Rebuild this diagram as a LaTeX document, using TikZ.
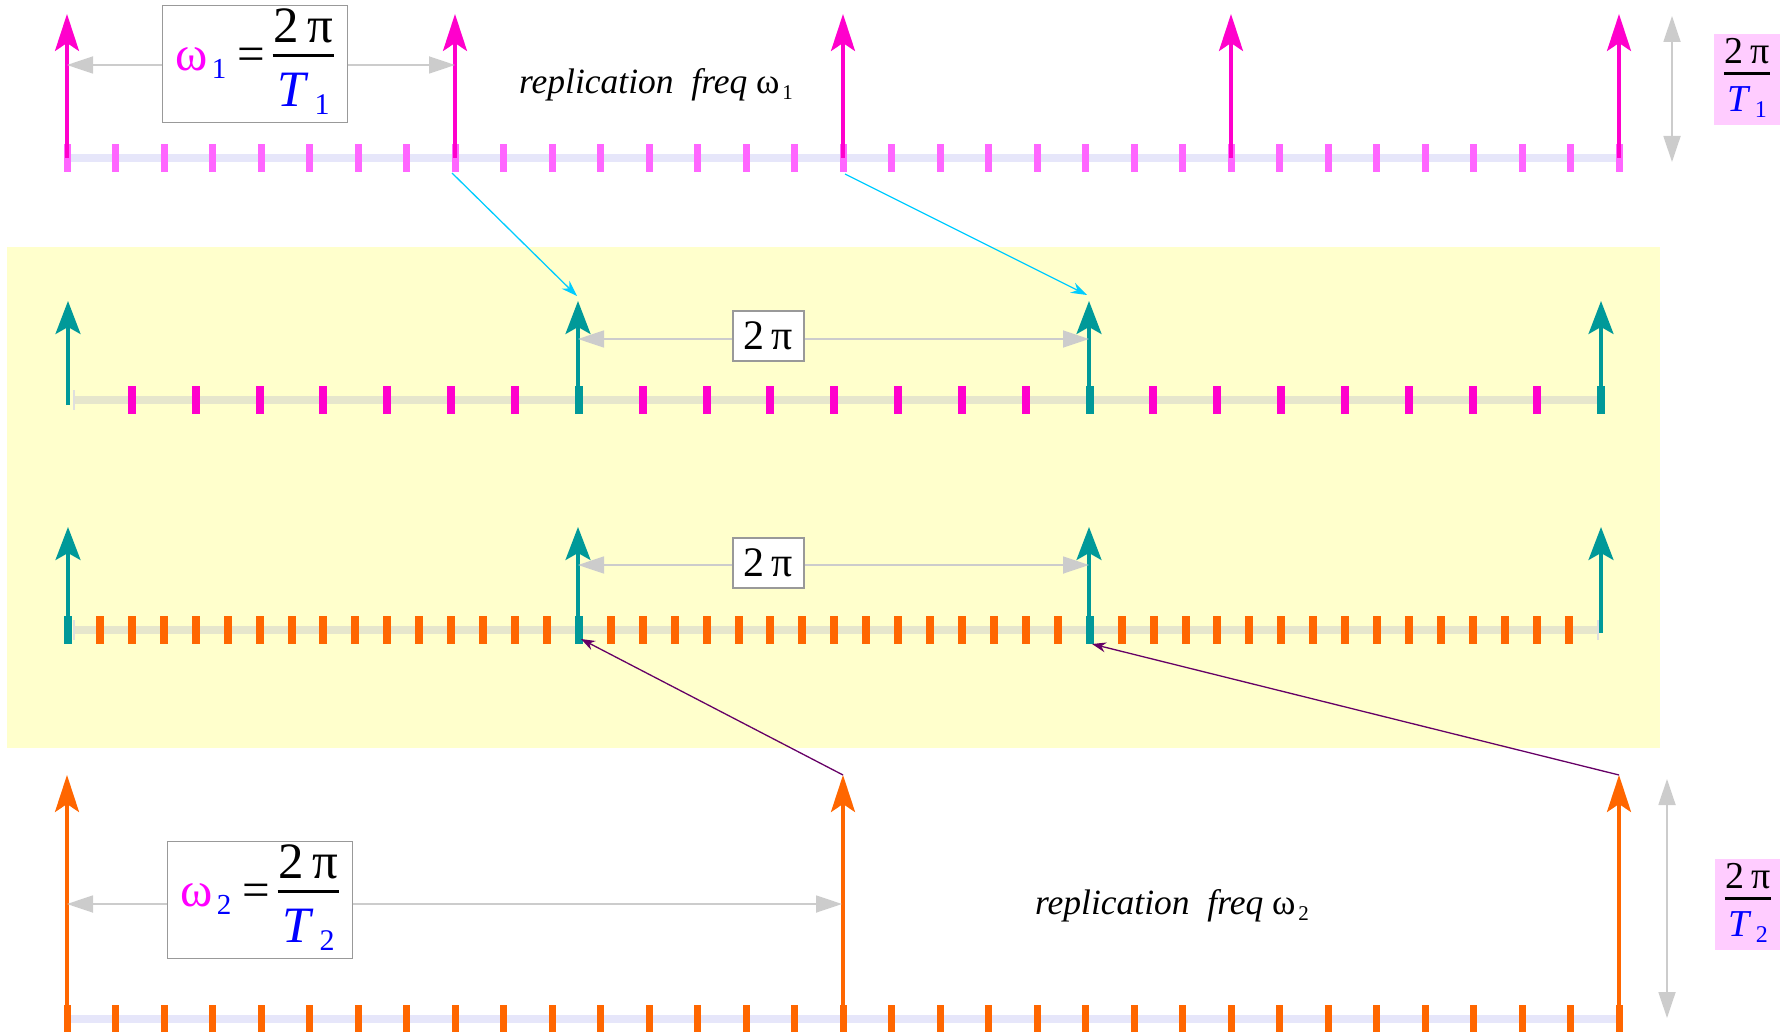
\documentclass[tikz,border=0pt]{standalone}
\usepackage{fontspec}
\setmainfont{Liberation Serif}
\usetikzlibrary{arrows.meta}
\definecolor{mag}{HTML}{FF00CC}
\definecolor{lmag}{HTML}{FF66FF}
\definecolor{omg}{HTML}{FF00FF}
\definecolor{lav}{HTML}{E6E6FA}
\definecolor{tealc}{HTML}{009999}
\definecolor{beige}{HTML}{E6E6CC}
\definecolor{org}{HTML}{FF6600}
\definecolor{ylw}{HTML}{FFFFCC}
\definecolor{gry}{HTML}{CCCCCC}
\definecolor{pnk}{HTML}{FFCCFF}
\definecolor{cyn}{HTML}{00CCFF}
\definecolor{prp}{HTML}{660066}
\definecolor{blu}{HTML}{0000FF}
\setlength{\arrayrulewidth}{3pt}
\newcommand\lowsub[2][22]{\raisebox{-0.35ex}{\fontsize{#1}{#1}\selectfont #2}}
\newcommand\Tsub[2][22]{\textcolor{blu}{\textit{T}\hspace{0.12em}\lowsub[#1]{#2}}}
\newcommand\myfrac[2]{\begin{tabular}{@{\hspace{1pt}}c@{\hspace{1pt}}}#1\\[-5pt]\hline\rule{0pt}{0.98em}#2\end{tabular}}
\newcommand\bigfrac[2]{{\fontsize{51}{53}\selectfont\myfrac{#1}{#2}}}
\begin{document}
\begin{tikzpicture}[x=1pt,y=-1pt,
  arrM/.style={line width=3.5pt,-{Stealth[length=37pt,width=24pt,inset=8pt]}},
  arrT/.style={tealc,line width=3.2pt,-{Stealth[length=33pt,width=25pt,inset=7pt]}},
  dimA/.style={gry,line width=1.8pt,{Triangle[length=26pt,width=17pt]}-{Triangle[length=26pt,width=17pt]}},
  fbox/.style={draw=gray!80,line width=1.2pt,fill=white,inner sep=0pt,minimum width=185pt,minimum height=115pt,font=\fontsize{49}{51}\selectfont},
  sbox/.style={draw=gray!80,line width=1.2pt,fill=white,inner sep=2pt,minimum width=71pt,minimum height=50pt,font=\fontsize{42}{46}\selectfont},
  pbox/.style={fill=pnk,inner sep=1pt,minimum width=66pt,minimum height=91pt,font=\fontsize{38}{42}\selectfont},
  reptxt/.style={font=\fontsize{35.5}{38}\selectfont,inner sep=0pt},
  cyarr/.style={cyn,line width=1.3pt,-{Stealth[length=16pt,width=11pt]}},
  prarr/.style={prp,line width=1.3pt,-{Stealth[length=14pt,width=10pt]}},
  endmark/.style={gray!25,line width=2pt}
]
\useasboundingbox (0,0) rectangle (1780,1032);
% yellow band
\fill[ylw] (7,247) rectangle (1660,748);

% ---------- row 1 ----------
\draw[lav,line width=8pt] (67,158) -- (1619,158);
\foreach \k in {0,...,32} \fill[lmag] ({67+\k*48.5-3.5},144) rectangle ++(7,28);
\foreach \k in {0,...,4}{
  \coordinate (b1-\k) at ({67+\k*388},158);
  \coordinate (t1-\k) at ({67+\k*388},14);
  \draw[arrM,mag] (b1-\k) -- (t1-\k);
}

% ---------- row 2 ----------
\draw[beige,line width=8pt] (74,400) -- (1601,400);
\draw[endmark] (74,390) -- (74,410);
\foreach \k in {1,...,23}{
  \pgfmathtruncatemacro{\m}{mod(\k,8)}
  \ifnum\m=0
    \fill[tealc] ({68+\k*63.85-4},386) rectangle ++(8,28);
  \else
    \fill[mag] ({68+\k*63.85-4},386) rectangle ++(8,28);
  \fi
}
\fill[tealc] (1601-4,386) rectangle ++(8,28);
\coordinate (b2-0) at (68,405);
\coordinate (b2-1) at (578,400);
\coordinate (b2-2) at (1089,400);
\coordinate (b2-3) at (1601,400);
\foreach \k/\x in {0/68,1/578,2/1089,3/1601}{
  \coordinate (t2-\k) at (\x,301);
  \draw[arrT] (b2-\k) -- (t2-\k);
}

% ---------- row 3 ----------
\draw[beige,line width=8pt] (74,630) -- (1598,630);
\draw[endmark] (74,620) -- (74,640);
\draw[endmark] (1598,620) -- (1598,640);
\foreach \k in {0,...,47}{
  \pgfmathtruncatemacro{\m}{mod(\k,16)}
  \ifnum\m=0
    \fill[tealc] ({68+\k*31.93-4},616) rectangle ++(8,28);
  \else
    \fill[org] ({68+\k*31.93-4},616) rectangle ++(8,28);
  \fi
}
\coordinate (b3-0) at (68,630);
\coordinate (b3-1) at (578,630);
\coordinate (b3-2) at (1089,630);
\coordinate (b3-3) at (1601,633);
\foreach \k/\x in {0/68,1/578,2/1089,3/1601}{
  \coordinate (t3-\k) at (\x,527);
  \draw[arrT] (b3-\k) -- (t3-\k);
}

% ---------- row 4 ----------
\draw[lav,line width=8pt] (67,1019) -- (1619,1019);
\foreach \k in {0,...,32} \fill[org] ({67+\k*48.5-3.5},1005) rectangle ++(7,28);
\foreach \k in {0,...,2}{
  \coordinate (b4-\k) at ({67+\k*776},1019);
  \coordinate (t4-\k) at ({67+\k*776},775);
  \draw[arrM,org] (b4-\k) -- (t4-\k);
}

% ---------- connectors ----------
\coordinate (c1s) at (452,173);
\coordinate (c1e) at (577,296);
\coordinate (c2s) at (845,174);
\coordinate (c2e) at (1087,295);
\draw[cyarr] (c1s) -- (c1e);
\draw[cyarr] (c2s) -- (c2e);
\coordinate (p1e) at (581,639);
\coordinate (p2e) at (1092,644);
\draw[prarr] (t4-1) -- (p1e);
\draw[prarr] (t4-2) -- (p2e);

% ---------- dimension arrows ----------
\coordinate (d1l) at (67,65);   \coordinate (d1r) at (455,65);
\coordinate (d2l) at (578,339); \coordinate (d2r) at (1089,339);
\coordinate (d3l) at (578,565); \coordinate (d3r) at (1089,565);
\coordinate (d4l) at (67,904);  \coordinate (d4r) at (842,904);
\coordinate (v1t) at (1672,16); \coordinate (v1b) at (1672,162);
\coordinate (v4t) at (1667,779); \coordinate (v4b) at (1667,1018);
\draw[dimA] (d1l) -- (d1r);
\draw[dimA] (d2l) -- (d2r);
\draw[dimA] (d3l) -- (d3r);
\draw[dimA] (d4l) -- (d4r);
\draw[dimA] (v1t) -- (v1b);
\draw[dimA] (v4t) -- (v4b);

% ---------- labels ----------
\node[fbox] (f1) at (255,64) {\textcolor{omg}{ω}\hspace{0.08em}\lowsub[29]{\textcolor{blu}{1}}\hspace{0.22em}=\hspace{0.16em}\bigfrac{2\,π}{\Tsub[30]{1}}};
\node[fbox] (f2) at (260,900) {\textcolor{omg}{ω}\hspace{0.08em}\lowsub[29]{\textcolor{blu}{2}}\hspace{0.22em}=\hspace{0.16em}\bigfrac{2\,π}{\Tsub[30]{2}}};
\node[sbox] (m1) at (768.5,336) {2\,π};
\node[sbox] (m2) at (768.5,563) {2\,π};
\node[pbox] (pk1) at (1747,79.5) {\myfrac{2\,π}{\Tsub[24]{1}}};
\node[pbox] (pk2) at (1748,904.5) {\myfrac{2\,π}{\Tsub[24]{2}}};
\node[reptxt] (r1) at (656,85) {\textit{replication\ \ freq} ω\hspace{0.08em}\lowsub[21]{1}};
\node[reptxt] (r2) at (1172,906) {\textit{replication\ \ freq} ω\hspace{0.08em}\lowsub[21]{2}};
\end{tikzpicture}
\end{document}
